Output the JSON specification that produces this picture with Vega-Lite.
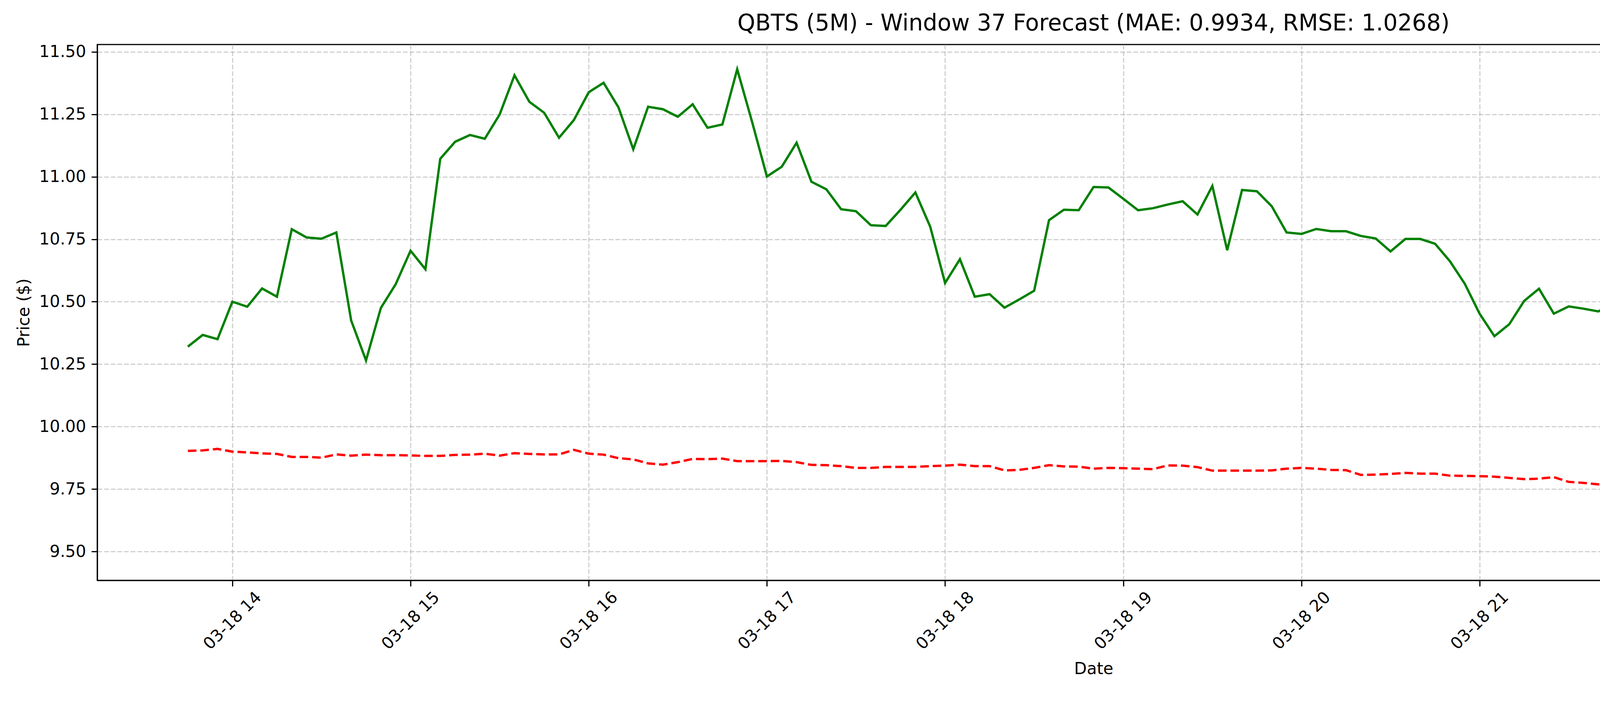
{
  "$schema": "https://vega.github.io/schema/vega-lite/v6.json",
  "width": 5400,
  "height": 1800,
  "autosize": {"type": "fit", "contains": "padding"},
  "padding": {"left": 40, "top": 34, "right": 50, "bottom": 66},
  "background": "white",
  "title": {
    "text": "QBTS (5M) - Window 37 Forecast (MAE: 0.9934, RMSE: 1.0268)",
    "font": "DejaVu Sans",
    "fontSize": 58,
    "fontWeight": "normal",
    "color": "black",
    "anchor": "middle",
    "offset": 22
  },
  "datasets": {
    "actual": [
      {"t": "2025-03-18T13:45", "v": 10.32}, {"t": "2025-03-18T13:50", "v": 10.367}, {"t": "2025-03-18T13:55", "v": 10.35},
      {"t": "2025-03-18T14:00", "v": 10.5}, {"t": "2025-03-18T14:05", "v": 10.48}, {"t": "2025-03-18T14:10", "v": 10.553},
      {"t": "2025-03-18T14:15", "v": 10.52}, {"t": "2025-03-18T14:20", "v": 10.79}, {"t": "2025-03-18T14:25", "v": 10.757},
      {"t": "2025-03-18T14:30", "v": 10.752}, {"t": "2025-03-18T14:35", "v": 10.777}, {"t": "2025-03-18T14:40", "v": 10.425},
      {"t": "2025-03-18T14:45", "v": 10.265}, {"t": "2025-03-18T14:50", "v": 10.475}, {"t": "2025-03-18T14:55", "v": 10.57},
      {"t": "2025-03-18T15:00", "v": 10.704}, {"t": "2025-03-18T15:05", "v": 10.63}, {"t": "2025-03-18T15:10", "v": 11.072},
      {"t": "2025-03-18T15:15", "v": 11.14}, {"t": "2025-03-18T15:20", "v": 11.167}, {"t": "2025-03-18T15:25", "v": 11.152},
      {"t": "2025-03-18T15:30", "v": 11.249}, {"t": "2025-03-18T15:35", "v": 11.406}, {"t": "2025-03-18T15:40", "v": 11.3},
      {"t": "2025-03-18T15:45", "v": 11.256}, {"t": "2025-03-18T15:50", "v": 11.156}, {"t": "2025-03-18T15:55", "v": 11.227},
      {"t": "2025-03-18T16:00", "v": 11.338}, {"t": "2025-03-18T16:05", "v": 11.376}, {"t": "2025-03-18T16:10", "v": 11.278},
      {"t": "2025-03-18T16:15", "v": 11.11}, {"t": "2025-03-18T16:20", "v": 11.28}, {"t": "2025-03-18T16:25", "v": 11.27},
      {"t": "2025-03-18T16:30", "v": 11.24}, {"t": "2025-03-18T16:35", "v": 11.29}, {"t": "2025-03-18T16:40", "v": 11.196},
      {"t": "2025-03-18T16:45", "v": 11.209}, {"t": "2025-03-18T16:50", "v": 11.43}, {"t": "2025-03-18T16:55", "v": 11.22},
      {"t": "2025-03-18T17:00", "v": 11.001}, {"t": "2025-03-18T17:05", "v": 11.04}, {"t": "2025-03-18T17:10", "v": 11.136},
      {"t": "2025-03-18T17:15", "v": 10.98}, {"t": "2025-03-18T17:20", "v": 10.95}, {"t": "2025-03-18T17:25", "v": 10.87},
      {"t": "2025-03-18T17:30", "v": 10.862}, {"t": "2025-03-18T17:35", "v": 10.806}, {"t": "2025-03-18T17:40", "v": 10.803},
      {"t": "2025-03-18T17:45", "v": 10.868}, {"t": "2025-03-18T17:50", "v": 10.937}, {"t": "2025-03-18T17:55", "v": 10.8},
      {"t": "2025-03-18T18:00", "v": 10.575}, {"t": "2025-03-18T18:05", "v": 10.67}, {"t": "2025-03-18T18:10", "v": 10.52},
      {"t": "2025-03-18T18:15", "v": 10.53}, {"t": "2025-03-18T18:20", "v": 10.476}, {"t": "2025-03-18T18:25", "v": 10.509},
      {"t": "2025-03-18T18:30", "v": 10.544}, {"t": "2025-03-18T18:35", "v": 10.826}, {"t": "2025-03-18T18:40", "v": 10.868},
      {"t": "2025-03-18T18:45", "v": 10.866}, {"t": "2025-03-18T18:50", "v": 10.959}, {"t": "2025-03-18T18:55", "v": 10.957},
      {"t": "2025-03-18T19:00", "v": 10.912}, {"t": "2025-03-18T19:05", "v": 10.866}, {"t": "2025-03-18T19:10", "v": 10.874},
      {"t": "2025-03-18T19:15", "v": 10.889}, {"t": "2025-03-18T19:20", "v": 10.902}, {"t": "2025-03-18T19:25", "v": 10.849},
      {"t": "2025-03-18T19:30", "v": 10.963}, {"t": "2025-03-18T19:35", "v": 10.706}, {"t": "2025-03-18T19:40", "v": 10.947},
      {"t": "2025-03-18T19:45", "v": 10.942}, {"t": "2025-03-18T19:50", "v": 10.882}, {"t": "2025-03-18T19:55", "v": 10.777},
      {"t": "2025-03-18T20:00", "v": 10.771}, {"t": "2025-03-18T20:05", "v": 10.791}, {"t": "2025-03-18T20:10", "v": 10.782},
      {"t": "2025-03-18T20:15", "v": 10.782}, {"t": "2025-03-18T20:20", "v": 10.763}, {"t": "2025-03-18T20:25", "v": 10.753},
      {"t": "2025-03-18T20:30", "v": 10.701}, {"t": "2025-03-18T20:35", "v": 10.751}, {"t": "2025-03-18T20:40", "v": 10.751},
      {"t": "2025-03-18T20:45", "v": 10.732}, {"t": "2025-03-18T20:50", "v": 10.662}, {"t": "2025-03-18T20:55", "v": 10.572},
      {"t": "2025-03-18T21:00", "v": 10.452}, {"t": "2025-03-18T21:05", "v": 10.362}, {"t": "2025-03-18T21:10", "v": 10.41},
      {"t": "2025-03-18T21:15", "v": 10.503}, {"t": "2025-03-18T21:20", "v": 10.552}, {"t": "2025-03-18T21:25", "v": 10.452},
      {"t": "2025-03-18T21:30", "v": 10.481}, {"t": "2025-03-18T21:35", "v": 10.472}, {"t": "2025-03-18T21:40", "v": 10.461},
      {"t": "2025-03-18T21:45", "v": 10.493}, {"t": "2025-03-18T21:50", "v": 10.46}, {"t": "2025-03-18T21:55", "v": 10.652},
      {"t": "2025-03-18T22:00", "v": 10.652}, {"t": "2025-03-18T22:05", "v": 10.641}, {"t": "2025-03-18T22:10", "v": 10.61},
      {"t": "2025-03-18T22:15", "v": 10.572}, {"t": "2025-03-18T22:20", "v": 10.5}, {"t": "2025-03-18T22:25", "v": 10.543},
      {"t": "2025-03-18T22:30", "v": 10.553}, {"t": "2025-03-18T22:35", "v": 10.553}, {"t": "2025-03-18T22:40", "v": 10.52},
      {"t": "2025-03-18T22:45", "v": 10.562}, {"t": "2025-03-18T22:50", "v": 10.622}, {"t": "2025-03-18T22:55", "v": 10.622},
      {"t": "2025-03-18T23:00", "v": 10.612}, {"t": "2025-03-18T23:05", "v": 10.742}, {"t": "2025-03-18T23:10", "v": 10.69},
      {"t": "2025-03-18T23:15", "v": 10.672}, {"t": "2025-03-18T23:20", "v": 10.672}, {"t": "2025-03-18T23:25", "v": 10.711},
      {"t": "2025-03-18T23:30", "v": 10.692}, {"t": "2025-03-18T23:35", "v": 10.702}, {"t": "2025-03-18T23:40", "v": 10.672},
      {"t": "2025-03-18T23:45", "v": 10.682}, {"t": "2025-03-18T23:50", "v": 10.682}, {"t": "2025-03-18T23:55", "v": 10.753}
    ],
    "predicted": [
      {"t": "2025-03-18T13:45", "v": 9.903}, {"t": "2025-03-18T13:50", "v": 9.905}, {"t": "2025-03-18T13:55", "v": 9.911},
      {"t": "2025-03-18T14:00", "v": 9.9}, {"t": "2025-03-18T14:05", "v": 9.897}, {"t": "2025-03-18T14:10", "v": 9.893},
      {"t": "2025-03-18T14:15", "v": 9.891}, {"t": "2025-03-18T14:20", "v": 9.879}, {"t": "2025-03-18T14:25", "v": 9.879},
      {"t": "2025-03-18T14:30", "v": 9.876}, {"t": "2025-03-18T14:35", "v": 9.889}, {"t": "2025-03-18T14:40", "v": 9.884},
      {"t": "2025-03-18T14:45", "v": 9.888}, {"t": "2025-03-18T14:50", "v": 9.886}, {"t": "2025-03-18T14:55", "v": 9.886},
      {"t": "2025-03-18T15:00", "v": 9.885}, {"t": "2025-03-18T15:05", "v": 9.883}, {"t": "2025-03-18T15:10", "v": 9.883},
      {"t": "2025-03-18T15:15", "v": 9.887}, {"t": "2025-03-18T15:20", "v": 9.888}, {"t": "2025-03-18T15:25", "v": 9.892},
      {"t": "2025-03-18T15:30", "v": 9.884}, {"t": "2025-03-18T15:35", "v": 9.894}, {"t": "2025-03-18T15:40", "v": 9.891},
      {"t": "2025-03-18T15:45", "v": 9.889}, {"t": "2025-03-18T15:50", "v": 9.889}, {"t": "2025-03-18T15:55", "v": 9.907},
      {"t": "2025-03-18T16:00", "v": 9.892}, {"t": "2025-03-18T16:05", "v": 9.888}, {"t": "2025-03-18T16:10", "v": 9.874},
      {"t": "2025-03-18T16:15", "v": 9.869}, {"t": "2025-03-18T16:20", "v": 9.853}, {"t": "2025-03-18T16:25", "v": 9.848},
      {"t": "2025-03-18T16:30", "v": 9.858}, {"t": "2025-03-18T16:35", "v": 9.871}, {"t": "2025-03-18T16:40", "v": 9.87},
      {"t": "2025-03-18T16:45", "v": 9.872}, {"t": "2025-03-18T16:50", "v": 9.862}, {"t": "2025-03-18T16:55", "v": 9.862},
      {"t": "2025-03-18T17:00", "v": 9.862}, {"t": "2025-03-18T17:05", "v": 9.863}, {"t": "2025-03-18T17:10", "v": 9.858},
      {"t": "2025-03-18T17:15", "v": 9.847}, {"t": "2025-03-18T17:20", "v": 9.846}, {"t": "2025-03-18T17:25", "v": 9.842},
      {"t": "2025-03-18T17:30", "v": 9.835}, {"t": "2025-03-18T17:35", "v": 9.835}, {"t": "2025-03-18T17:40", "v": 9.839},
      {"t": "2025-03-18T17:45", "v": 9.839}, {"t": "2025-03-18T17:50", "v": 9.839}, {"t": "2025-03-18T17:55", "v": 9.842},
      {"t": "2025-03-18T18:00", "v": 9.844}, {"t": "2025-03-18T18:05", "v": 9.848}, {"t": "2025-03-18T18:10", "v": 9.842},
      {"t": "2025-03-18T18:15", "v": 9.842}, {"t": "2025-03-18T18:20", "v": 9.825}, {"t": "2025-03-18T18:25", "v": 9.827},
      {"t": "2025-03-18T18:30", "v": 9.835}, {"t": "2025-03-18T18:35", "v": 9.846}, {"t": "2025-03-18T18:40", "v": 9.841},
      {"t": "2025-03-18T18:45", "v": 9.84}, {"t": "2025-03-18T18:50", "v": 9.832}, {"t": "2025-03-18T18:55", "v": 9.835},
      {"t": "2025-03-18T19:00", "v": 9.834}, {"t": "2025-03-18T19:05", "v": 9.832}, {"t": "2025-03-18T19:10", "v": 9.83},
      {"t": "2025-03-18T19:15", "v": 9.845}, {"t": "2025-03-18T19:20", "v": 9.844}, {"t": "2025-03-18T19:25", "v": 9.838},
      {"t": "2025-03-18T19:30", "v": 9.824}, {"t": "2025-03-18T19:35", "v": 9.824}, {"t": "2025-03-18T19:40", "v": 9.824},
      {"t": "2025-03-18T19:45", "v": 9.824}, {"t": "2025-03-18T19:50", "v": 9.825}, {"t": "2025-03-18T19:55", "v": 9.832},
      {"t": "2025-03-18T20:00", "v": 9.835}, {"t": "2025-03-18T20:05", "v": 9.832}, {"t": "2025-03-18T20:10", "v": 9.827},
      {"t": "2025-03-18T20:15", "v": 9.826}, {"t": "2025-03-18T20:20", "v": 9.807}, {"t": "2025-03-18T20:25", "v": 9.808},
      {"t": "2025-03-18T20:30", "v": 9.811}, {"t": "2025-03-18T20:35", "v": 9.815}, {"t": "2025-03-18T20:40", "v": 9.812},
      {"t": "2025-03-18T20:45", "v": 9.812}, {"t": "2025-03-18T20:50", "v": 9.804}, {"t": "2025-03-18T20:55", "v": 9.803},
      {"t": "2025-03-18T21:00", "v": 9.802}, {"t": "2025-03-18T21:05", "v": 9.8}, {"t": "2025-03-18T21:10", "v": 9.795},
      {"t": "2025-03-18T21:15", "v": 9.79}, {"t": "2025-03-18T21:20", "v": 9.792}, {"t": "2025-03-18T21:25", "v": 9.798},
      {"t": "2025-03-18T21:30", "v": 9.779}, {"t": "2025-03-18T21:35", "v": 9.775}, {"t": "2025-03-18T21:40", "v": 9.769},
      {"t": "2025-03-18T21:45", "v": 9.756}, {"t": "2025-03-18T21:50", "v": 9.749}, {"t": "2025-03-18T21:55", "v": 9.745},
      {"t": "2025-03-18T22:00", "v": 9.742}, {"t": "2025-03-18T22:05", "v": 9.733}, {"t": "2025-03-18T22:10", "v": 9.721},
      {"t": "2025-03-18T22:15", "v": 9.717}, {"t": "2025-03-18T22:20", "v": 9.697}, {"t": "2025-03-18T22:25", "v": 9.689},
      {"t": "2025-03-18T22:30", "v": 9.682}, {"t": "2025-03-18T22:35", "v": 9.671}, {"t": "2025-03-18T22:40", "v": 9.642},
      {"t": "2025-03-18T22:45", "v": 9.629}, {"t": "2025-03-18T22:50", "v": 9.613}, {"t": "2025-03-18T22:55", "v": 9.597},
      {"t": "2025-03-18T23:00", "v": 9.58}, {"t": "2025-03-18T23:05", "v": 9.57}, {"t": "2025-03-18T23:10", "v": 9.555},
      {"t": "2025-03-18T23:15", "v": 9.55}, {"t": "2025-03-18T23:20", "v": 9.541}, {"t": "2025-03-18T23:25", "v": 9.53},
      {"t": "2025-03-18T23:30", "v": 9.52}, {"t": "2025-03-18T23:35", "v": 9.513}, {"t": "2025-03-18T23:40", "v": 9.503},
      {"t": "2025-03-18T23:45", "v": 9.491}, {"t": "2025-03-18T23:50", "v": 9.477}, {"t": "2025-03-18T23:55", "v": 9.48}
    ]
  },
  "encoding": {
    "x": {
      "field": "t",
      "type": "temporal",
      "scale": {"domain": [{"year": 2025, "month": 3, "date": 18, "hours": 13, "minutes": 14, "seconds": 30}, {"year": 2025, "month": 3, "date": 19, "hours": 0, "minutes": 25, "seconds": 30}]},
      "axis": {
        "title": "Date",
        "format": "%m-%d %H",
        "values": [
          {"year": 2025, "month": 3, "date": 18, "hours": 14},
          {"year": 2025, "month": 3, "date": 18, "hours": 15},
          {"year": 2025, "month": 3, "date": 18, "hours": 16},
          {"year": 2025, "month": 3, "date": 18, "hours": 17},
          {"year": 2025, "month": 3, "date": 18, "hours": 18},
          {"year": 2025, "month": 3, "date": 18, "hours": 19},
          {"year": 2025, "month": 3, "date": 18, "hours": 20},
          {"year": 2025, "month": 3, "date": 18, "hours": 21},
          {"year": 2025, "month": 3, "date": 18, "hours": 22},
          {"year": 2025, "month": 3, "date": 18, "hours": 23},
          {"year": 2025, "month": 3, "date": 19, "hours": 0}
        ],
        "labelAngle": -45,
        "labelAlign": "center",
        "labelBaseline": "middle",
        "labelPadding": 88,
        "labelLimit": 500,
        "titlePadding": 22
      }
    },
    "y": {
      "field": "v",
      "type": "quantitative",
      "scale": {"domain": [9.385, 11.529], "zero": false, "nice": false},
      "axis": {
        "title": "Price ($)",
        "format": ".2f",
        "values": [9.5, 9.75, 10, 10.25, 10.5, 10.75, 11, 11.25, 11.5],
        "labelPadding": 14,
        "titlePadding": 16
      }
    },
    "color": {
      "scale": {"domain": ["Actual", "Predicted"], "range": ["#008000", "#ff0000"]},
      "legend": {
        "title": null,
        "encode": {
          "symbols": {
            "update": {
              "strokeDash": {"signal": "datum.value == 'Predicted' ? [22, 10] : [1, 0]"}
            }
          }
        }
      }
    }
  },
  "layer": [
    {
      "data": {"name": "actual"},
      "mark": {"type": "line", "strokeWidth": 6, "clip": true},
      "encoding": {"color": {"datum": "Actual"}}
    },
    {
      "data": {"name": "predicted"},
      "mark": {"type": "line", "strokeWidth": 6, "strokeDash": [22, 10], "clip": true},
      "encoding": {"color": {"datum": "Predicted"}}
    }
  ],
  "config": {
    "font": "DejaVu Sans",
    "view": {"stroke": "black", "strokeWidth": 3},
    "axis": {
      "labelFont": "DejaVu Sans",
      "labelFontSize": 42,
      "labelColor": "black",
      "titleFont": "DejaVu Sans",
      "titleFontSize": 42,
      "titleFontWeight": "normal",
      "titleColor": "black",
      "domainColor": "black",
      "domainWidth": 3,
      "tickColor": "black",
      "tickWidth": 3,
      "tickSize": 15,
      "grid": true,
      "gridColor": "#b0b0b0",
      "gridOpacity": 0.6,
      "gridWidth": 3,
      "gridDash": [12, 5],
      "labelOverlap": false,
      "labelFlush": false
    },
    "legend": {
      "orient": "top-right",
      "offset": 22,
      "padding": 18,
      "strokeColor": "#cccccc",
      "strokeWidth": 4,
      "fillColor": "white",
      "cornerRadius": 12,
      "labelFont": "DejaVu Sans",
      "labelFontSize": 42,
      "labelColor": "black",
      "labelOffset": 30,
      "symbolType": "stroke",
      "symbolSize": 8100,
      "symbolStrokeWidth": 6,
      "rowPadding": 14
    }
  }
}
